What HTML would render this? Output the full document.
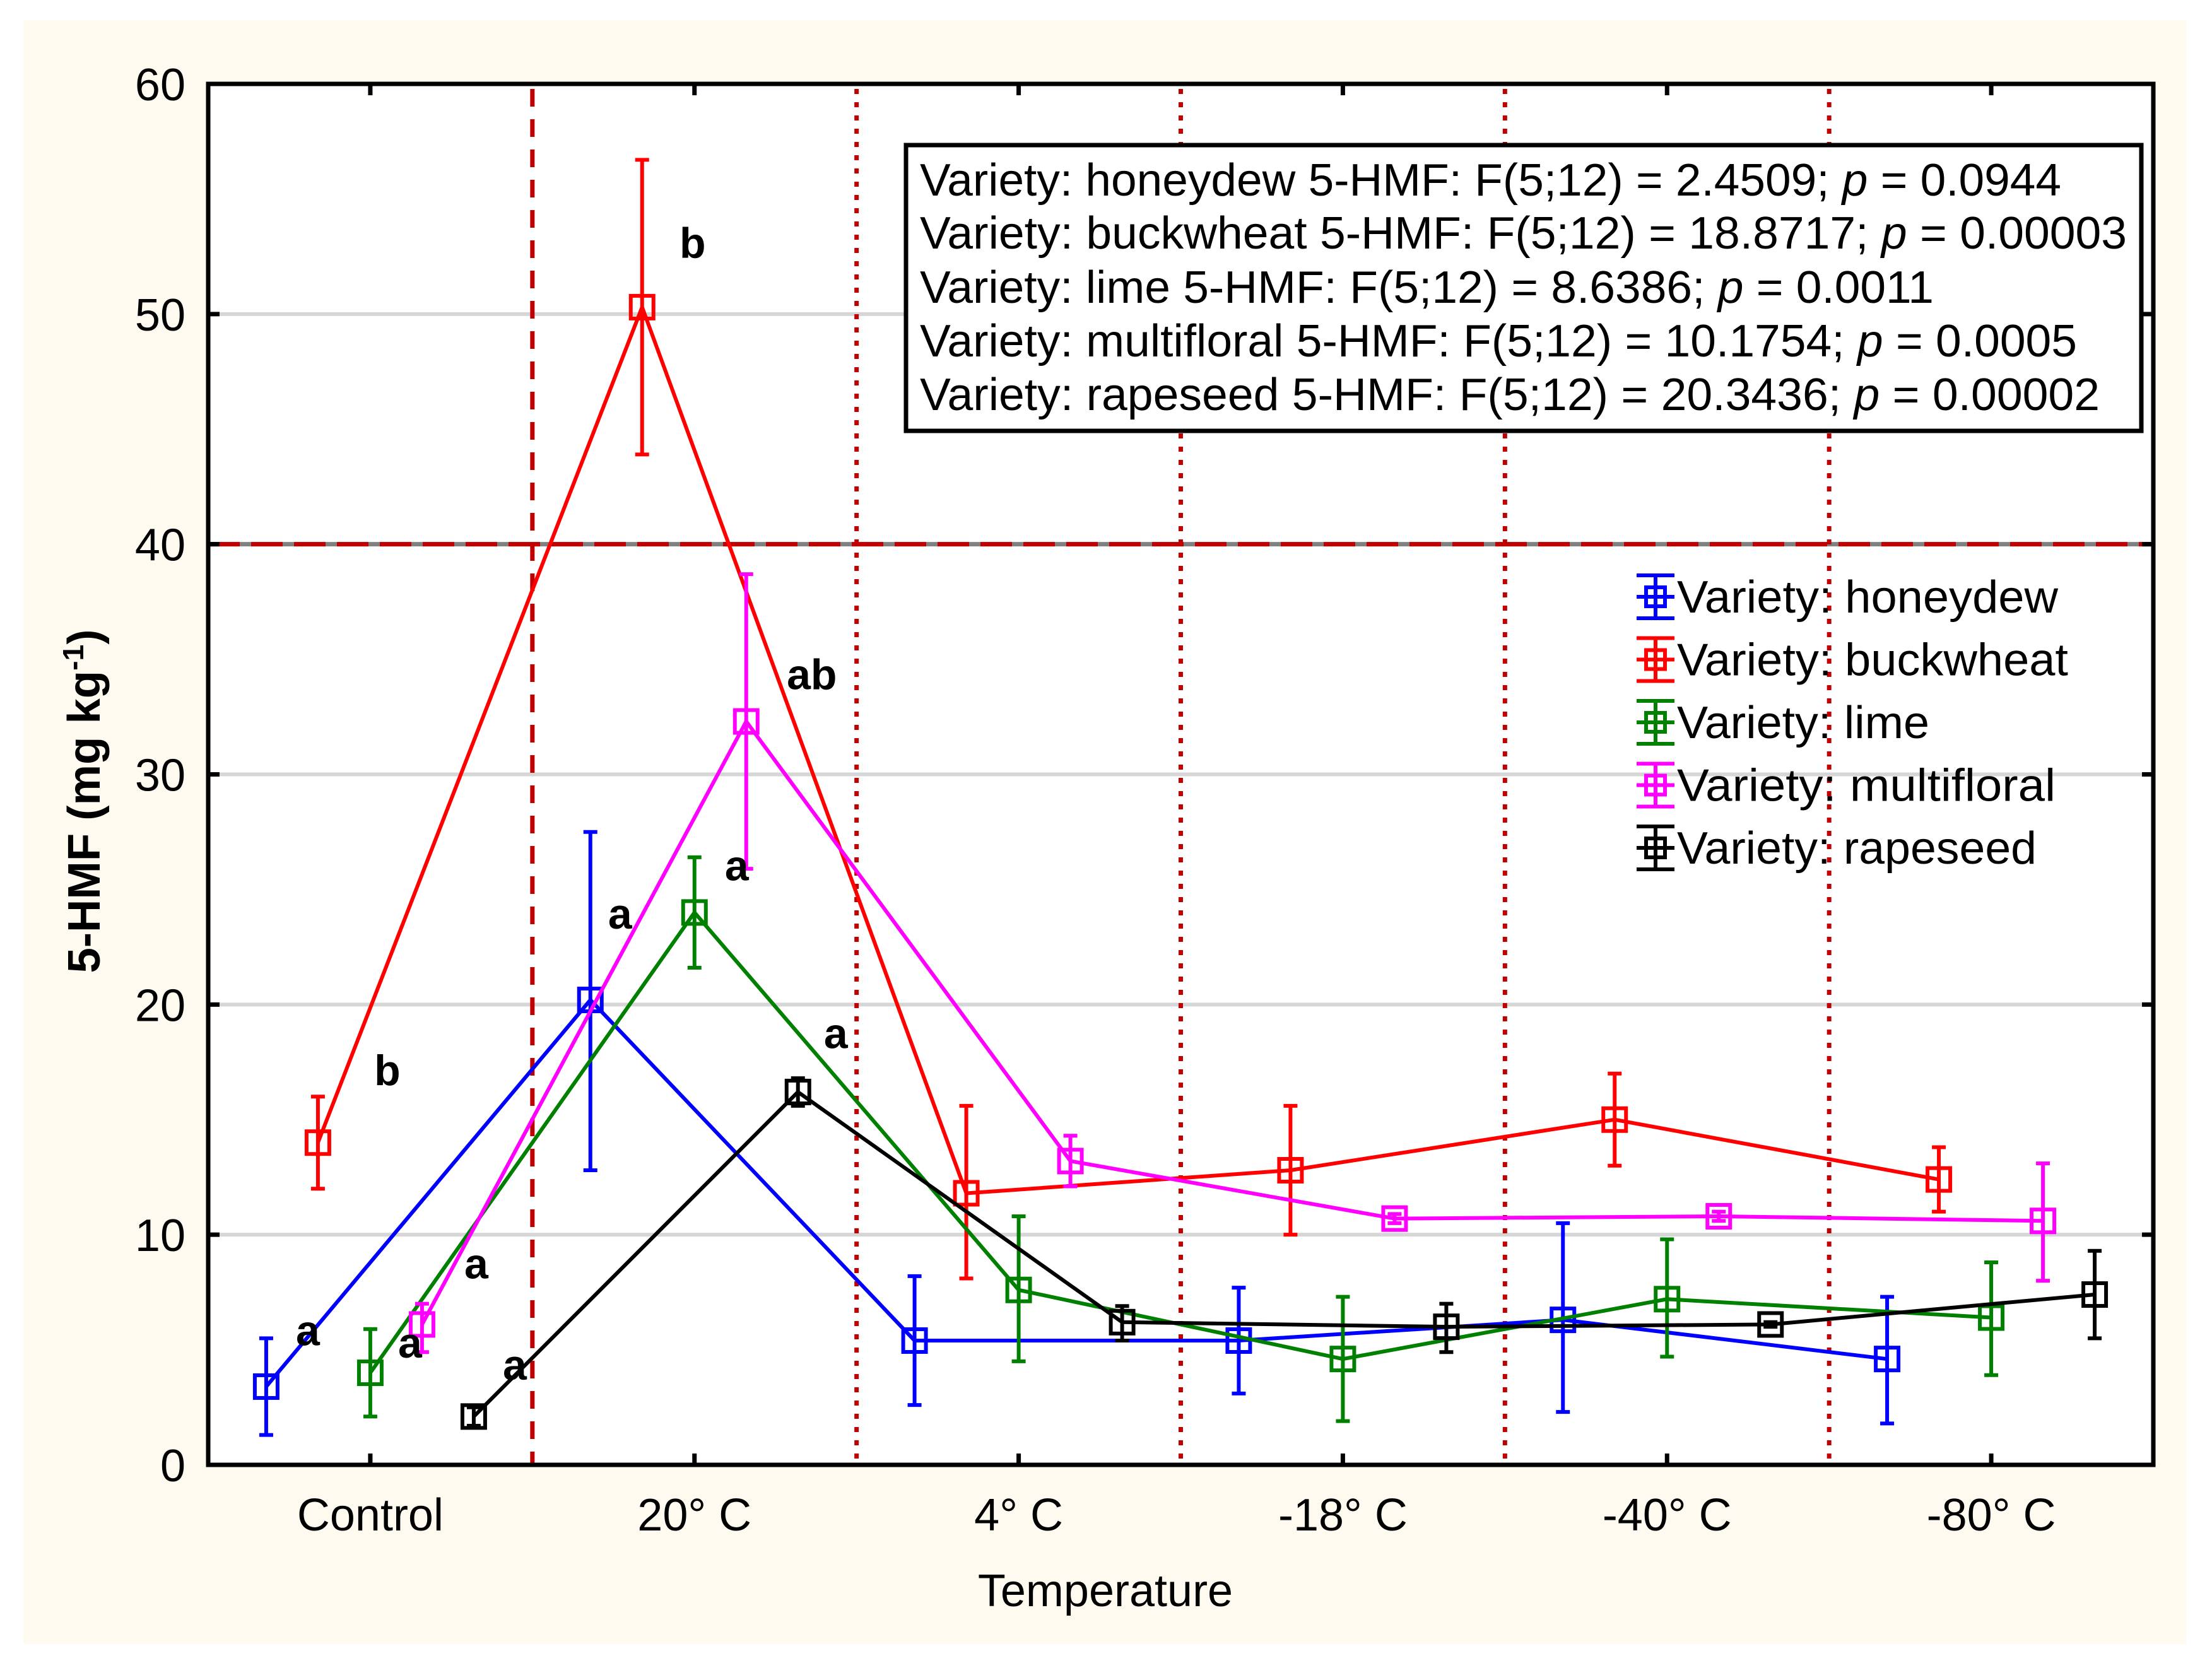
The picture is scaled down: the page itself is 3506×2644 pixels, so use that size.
<!DOCTYPE html>
<html><head><meta charset="utf-8"><style>
html,body{margin:0;padding:0;background:#fff;}
svg{display:block;}
text{font-family:"Liberation Sans",sans-serif;}
</style></head><body>
<svg id="chart" width="3506" height="2644" viewBox="0 0 3506 2644" xmlns="http://www.w3.org/2000/svg">
<rect x="37" y="32" width="3428" height="2574" fill="#FEFAF0"/>
<rect x="330" y="133" width="3083" height="2189" fill="#fff"/>
<g id="grid"></g>
<g id="refs"></g>
<g id="series"></g>
<g id="letters"></g>
<g id="axes"></g>
<g>
<rect x="1436" y="230" width="1958" height="453" fill="#fff" stroke="#000" stroke-width="7"/>
<text x="1458" y="310" font-size="72" textLength="1809" lengthAdjust="spacingAndGlyphs">Variety: honeydew 5-HMF: F(5;12) = 2.4509; <tspan font-style="italic">p</tspan> = 0.0944</text>
<text x="1458" y="394" font-size="72" textLength="1913" lengthAdjust="spacingAndGlyphs">Variety: buckwheat 5-HMF: F(5;12) = 18.8717; <tspan font-style="italic">p</tspan> = 0.00003</text>
<text x="1458" y="480" font-size="72" textLength="1607" lengthAdjust="spacingAndGlyphs">Variety: lime 5-HMF: F(5;12) = 8.6386; <tspan font-style="italic">p</tspan> = 0.0011</text>
<text x="1458" y="565" font-size="72" textLength="1834" lengthAdjust="spacingAndGlyphs">Variety: multifloral 5-HMF: F(5;12) = 10.1754; <tspan font-style="italic">p</tspan> = 0.0005</text>
<text x="1458" y="650" font-size="72" textLength="1870" lengthAdjust="spacingAndGlyphs">Variety: rapeseed 5-HMF: F(5;12) = 20.3436; <tspan font-style="italic">p</tspan> = 0.00002</text>
</g>
<g id="legend"></g>
<text x="1752" y="2546" font-size="72" text-anchor="middle">Temperature</text>
<text transform="translate(158,1270) rotate(-90)" font-size="72" font-weight="bold" text-anchor="middle" textLength="545" lengthAdjust="spacingAndGlyphs">5-HMF (mg kg<tspan dy="-26" font-size="46">-1</tspan><tspan dy="26">)</tspan></text>
</svg>
<script>
const categories = ["Control","20° C","4° C","-18° C","-40° C","-80° C"];
const seriesNames = ["honeydew","buckwheat","lime","multifloral","rapeseed"];
const honeydewMean = [3.4,20.2,5.4,5.4,6.3,4.6];
const honeydewHi = [5.5,27.5,8.2,7.7,10.5,7.3];
const honeydewLo = [1.3,12.8,2.6,3.1,2.3,1.8];
const buckwheatMean = [14.0,50.3,11.8,12.8,15.0,12.4];
const buckwheatHi = [16.0,56.7,15.6,15.6,17.0,13.8];
const buckwheatLo = [12.0,43.9,8.1,10.0,13.0,11.0];
const limeMean = [4.0,24.0,7.6,4.6,7.2,6.4];
const limeHi = [5.9,26.4,10.8,7.3,9.8,8.8];
const limeLo = [2.1,21.6,4.5,1.9,4.7,3.9];
const multifloralMean = [6.1,32.3,13.2,10.7,10.8,10.6];
const multifloralHi = [7.0,38.7,14.3,10.9,11.0,13.1];
const multifloralLo = [4.9,25.9,12.1,10.5,10.6,8.0];
const rapeseedMean = [2.1,16.2,6.2,6.0,6.1,7.4];
const rapeseedHi = [2.5,16.8,6.9,7.0,6.2,9.3];
const rapeseedLo = [1.7,15.6,5.4,4.9,6.0,5.5];
const yTicks = [0,10,20,30,40,50,60];
const letterText = ["b","b","ab","a","a","a","a","a","a","a"];
const letterValue = [52.45,16.5,33.7,23.3,25.4,18.1,5.2,4.66,8.1,3.7];
const letterCat = [1,0,1,1,1,1,0,0,0,0];
</script>
<script>
const NS="http://www.w3.org/2000/svg";
const L=330,R=3413,T=133,B=2322,CW=(R-L)/6;
const yMax=60;
function y(v){return B-(v/yMax)*(B-T);}
function xc(i){return L+CW*(i+0.5);}
function mk(tag,attrs,parent){const e=document.createElementNS(NS,tag);for(const k in attrs)e.setAttribute(k,attrs[k]);parent.appendChild(e);return e;}
const grid=document.getElementById('grid'),refs=document.getElementById('refs'),ser=document.getElementById('series'),axes=document.getElementById('axes'),lets=document.getElementById('letters'),leg=document.getElementById('legend');
yTicks.forEach(t=>{if(t>0&&t<60&&t!==40){const g=mk('line',{x1:L,x2:R,y1:y(t),y2:y(t),stroke:'#d6d6d6','stroke-width':6},grid);

}});
let h=mk('line',{x1:L,x2:R,y1:y(40),y2:y(40),stroke:'#808080','stroke-width':7},refs);


h=mk('line',{x1:L,x2:R,y1:y(40),y2:y(40),stroke:'#C00000','stroke-width':7,'stroke-dasharray':'50 18'},refs);


for(let k=1;k<6;k++){const x=L+CW*k;const v=mk('line',{x1:x,x2:x,y1:T+8,y2:B,stroke:'#C00000','stroke-width':7,'stroke-dasharray':k===1?'28 20':'8 13'},refs);

}
const colors=['#0000FF','#FF0000','#008000','#FF00FF','#000000'];
const offs=[-165,-83,0,82,164];
const means=[honeydewMean,buckwheatMean,limeMean,multifloralMean,rapeseedMean];
const his=[honeydewHi,buckwheatHi,limeHi,multifloralHi,rapeseedHi];
const los=[honeydewLo,buckwheatLo,limeLo,multifloralLo,rapeseedLo];
means.forEach((m,s)=>{
 const g=mk('g',{},ser);
 
 
 const pts=m.map((v,i)=>(xc(i)+offs[s])+','+y(v)).join(' ');
 const pl=mk('polyline',{points:pts,fill:'none',stroke:colors[s],'stroke-width':6},g);
 
 
 m.forEach((v,i)=>{
  const x=xc(i)+offs[s];
  const e=mk('path',{d:`M${x},${y(his[s][i])}V${y(los[s][i])}M${x-11},${y(his[s][i])}H${x+11}M${x-11},${y(los[s][i])}H${x+11}`,stroke:colors[s],'stroke-width':6,fill:'none'},g);
  
  
  const r=mk('rect',{x:x-18,y:y(v)-18,width:36,height:36,fill:'none',stroke:colors[s],'stroke-width':6},g);
  
  
 });
});
const letterDX=[-3,27,186,-118,67,224,-99,63,168,229];
letterText.forEach((t,i)=>{
 const tx=mk('text',{x:xc(letterCat[i])+letterDX[i],y:y(letterValue[i]),'font-size':68,'font-weight':'bold','text-anchor':'middle'},lets);
 tx.textContent=t;
 
 
});
const fr=mk('rect',{x:L,y:T,width:R-L,height:B-T,fill:'none',stroke:'#000','stroke-width':7},axes);


yTicks.forEach(t=>{
 const tk=mk('path',{d:`M${L},${y(t)}h18M${R},${y(t)}h-18`,stroke:'#000','stroke-width':7},axes);
 
 
 const lb=mk('text',{x:294,y:y(t)+26,'font-size':72,'text-anchor':'end'},axes);
 lb.textContent=t;
 
 
});
categories.forEach((c,i)=>{
 const tk=mk('path',{d:`M${xc(i)},${B}v-18M${xc(i)},${T}v18`,stroke:'#000','stroke-width':7},axes);
 
 
 const lb=mk('text',{x:xc(i),y:2426,'font-size':72,'text-anchor':'middle'},axes);
 lb.textContent=c;
 
 
});
seriesNames.forEach((n,s)=>{
 const cy=946+s*99.5, cx=2624;
 const g=mk('g',{},leg);
 
 
 mk('path',{d:`M${cx-30},${cy-34}h60M${cx-30},${cy+34}h60M${cx},${cy-34}V${cy+34}M${cx-30},${cy}h60`,stroke:colors[s],'stroke-width':6,fill:'none'},g);
 mk('rect',{x:cx-15,y:cy-15,width:30,height:30,fill:'none',stroke:colors[s],'stroke-width':6},g);
 const tx=mk('text',{x:2658,y:cy+25,'font-size':72,textLength:[604,620,400,600,570][s],lengthAdjust:'spacingAndGlyphs'},g);
 tx.textContent='Variety: '+n;
});
</script>
</body></html>
